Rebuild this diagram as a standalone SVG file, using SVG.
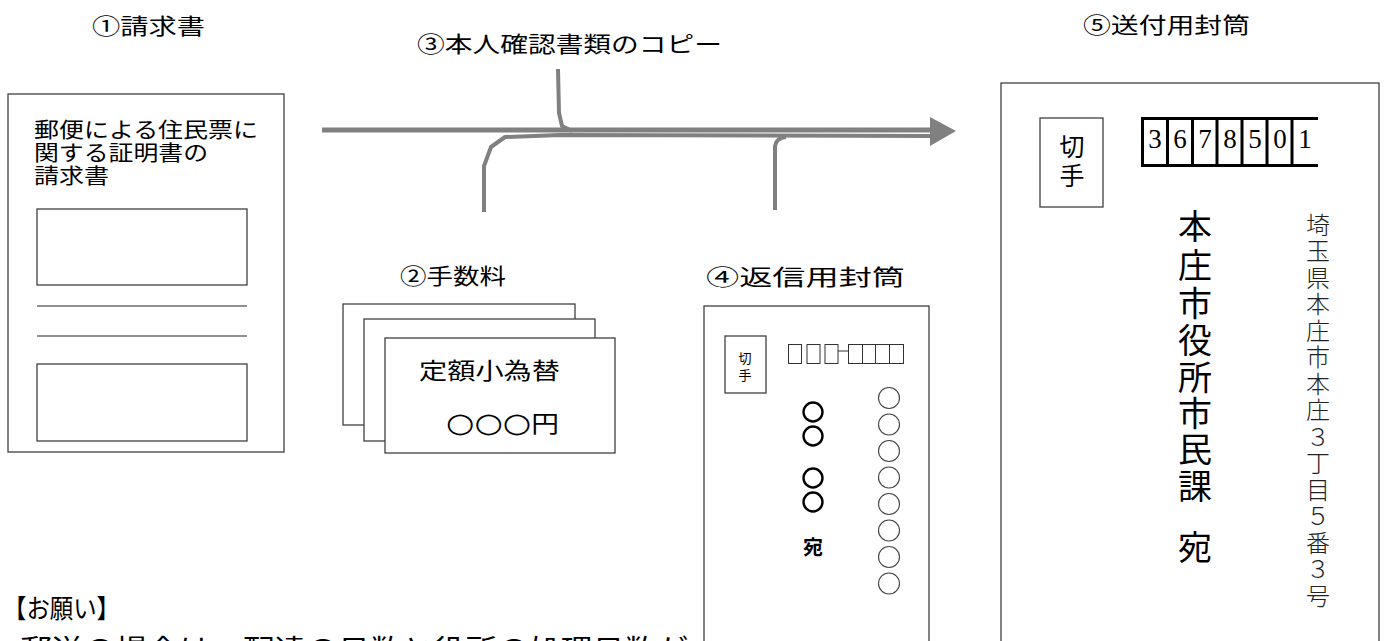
<svg xmlns="http://www.w3.org/2000/svg" width="1385" height="641" viewBox="0 0 1385 641">
<style>
text{font-family:"Noto Sans CJK JP","Noto Sans CJK SC",sans-serif;fill:#000}
.box{fill:#fff;stroke:#404040;stroke-width:1.3}
.thick{fill:none;stroke:#000;stroke-width:3}
.conn{fill:none;stroke:#808080;stroke-linejoin:round}
.ttl{font-size:22px}
.serif{font-family:"Liberation Serif",serif}
.addr{font-size:24px;fill:#222;font-weight:300}
.circ{fill:none;stroke:#444;stroke-width:1.1}
.sym{font-family:"DejaVu Sans",sans-serif;font-size:27px}
</style>
<rect width="1385" height="641" fill="#fff"/>

<g id="connectors">
  <path class="conn" stroke-width="5" d="M322,130 H932"/>
  <path class="conn" stroke-width="4" d="M484,212 V166 L491,147 L505,137 L560,135 L932,136"/>
  <path class="conn" stroke-width="4" d="M558,69 L559,113 L562,126 L572,131"/>
  <path class="conn" stroke-width="4" d="M775,210 V146 Q776,138 786,137"/>
  <polygon points="930,117 956,131 930,146" fill="#808080"/>
</g>

<g id="node1">
  <text class="ttl" x="92" y="34" textLength="113" lengthAdjust="spacingAndGlyphs">①請求書</text>
  <rect class="box" x="8" y="94" width="276" height="358"/>
  <text font-size="21"><tspan x="34" y="137" textLength="224" lengthAdjust="spacingAndGlyphs">郵便による住民票に</tspan><tspan x="34" y="160" textLength="174" lengthAdjust="spacingAndGlyphs">関する証明書の</tspan><tspan x="34" y="183" textLength="75" lengthAdjust="spacingAndGlyphs">請求書</tspan></text>
  <rect class="box" x="37" y="209" width="210" height="76"/>
  <line x1="37" y1="306" x2="247" y2="306" stroke="#222" stroke-width="1.2"/>
  <line x1="37" y1="336" x2="247" y2="336" stroke="#222" stroke-width="1.2"/>
  <rect class="box" x="37" y="364" width="210" height="77"/>
</g>

<g id="node2">
  <text class="ttl" x="400" y="284" textLength="106" lengthAdjust="spacingAndGlyphs">②手数料</text>
  <rect class="box" x="343" y="304" width="232" height="121"/>
  <rect class="box" x="364" y="319" width="231" height="122"/>
  <rect class="box" x="385" y="338" width="230" height="115"/>
  <text x="419" y="379" font-size="23" textLength="141" lengthAdjust="spacingAndGlyphs">定額小為替</text>
  <text x="446" y="432" font-size="23" textLength="113" lengthAdjust="spacingAndGlyphs"><tspan class="sym">○○○</tspan>円</text>
</g>

<g id="node3">
  <text class="ttl" x="417" y="52" textLength="305" lengthAdjust="spacingAndGlyphs">③本人確認書類のコピー</text>
</g>

<g id="node4">
  <text class="ttl" x="706" y="285" textLength="199" lengthAdjust="spacingAndGlyphs">④返信用封筒</text>
  <rect class="box" x="704" y="306" width="225" height="400"/>
  <rect class="box" x="725" y="336" width="41" height="57"/>
  <text x="745 745" y="363 380" font-size="13" text-anchor="middle" fill="#333">切手</text>
  <g fill="none" stroke="#333" stroke-width="1">
    <rect x="788.5" y="344.5" width="13" height="19"/>
    <rect x="807" y="344.5" width="13" height="19"/>
    <rect x="825" y="344.5" width="13" height="19"/>
    <line x1="838" y1="351" x2="848" y2="351"/>
    <rect x="848.5" y="344.5" width="14" height="19"/>
    <rect x="862.5" y="344.5" width="13" height="19"/>
    <rect x="875.5" y="344.5" width="14" height="19"/>
    <rect x="889.5" y="344.5" width="14" height="19"/>
  </g>
  <g fill="none" stroke="#000" stroke-width="2.4">
    <circle cx="813" cy="412" r="9.5"/>
    <circle cx="813" cy="436" r="9.5"/>
    <circle cx="813" cy="478" r="9.5"/>
    <circle cx="813" cy="502" r="9.5"/>
  </g>
  <text x="813" y="555" font-size="20" font-weight="bold" text-anchor="middle">宛</text>
  <g class="circ">
    <circle cx="889" cy="398" r="10.5"/>
    <circle cx="889" cy="424.5" r="10.5"/>
    <circle cx="889" cy="451" r="10.5"/>
    <circle cx="889" cy="477.5" r="10.5"/>
    <circle cx="889" cy="504" r="10.5"/>
    <circle cx="889" cy="530.5" r="10.5"/>
    <circle cx="889" cy="557" r="10.5"/>
    <circle cx="889" cy="583.5" r="10.5"/>
  </g>
</g>

<g id="node5">
  <text class="ttl" x="1083" y="33" textLength="167" lengthAdjust="spacingAndGlyphs">⑤送付用封筒</text>
  <rect class="box" x="1001" y="83" width="378" height="600"/>
  <rect class="box" x="1040" y="118" width="63" height="89"/>
  <text x="1072 1072" y="156 185" font-size="25" text-anchor="middle">切手</text>
  <g class="thick">
    <path d="M1318,118.5 H1142.5 V165.5 H1318"/>
    <line x1="1167.5" y1="118" x2="1167.5" y2="166"/>
    <line x1="1192.5" y1="118" x2="1192.5" y2="166"/>
    <line x1="1217" y1="118" x2="1217" y2="166"/>
    <line x1="1242" y1="118" x2="1242" y2="166"/>
    <line x1="1267" y1="118" x2="1267" y2="166"/>
    <line x1="1292" y1="118" x2="1292" y2="166"/>
  </g>
  <text class="serif" font-size="27" text-anchor="middle" fill="#222" x="1155 1180 1205 1230 1255 1280 1305" y="148">3678501</text>
  <text font-size="34" text-anchor="middle" x="1195 1195 1195 1195 1195 1195 1195 1195 1195" y="239 278 316 353 390 426 462 499 560">本庄市役所市民課宛</text>
  <text class="addr" text-anchor="middle" x="1318 1318 1318 1318 1318 1318 1318 1318 1318 1318 1318 1318 1318 1318 1318" y="234 260 287 313 340 366 393 419 446 472 499 525 552 578 605">埼玉県本庄市本庄３丁目５番３号</text>
</g>

<g id="notice">
  <text x="3" y="618" font-size="26" textLength="117" lengthAdjust="spacingAndGlyphs">【お願い】</text>
  <text x="20" y="660" font-size="28" textLength="668" lengthAdjust="spacingAndGlyphs">郵送の場合は、配達の日数と役所の処理日数が</text>
</g>
</svg>
